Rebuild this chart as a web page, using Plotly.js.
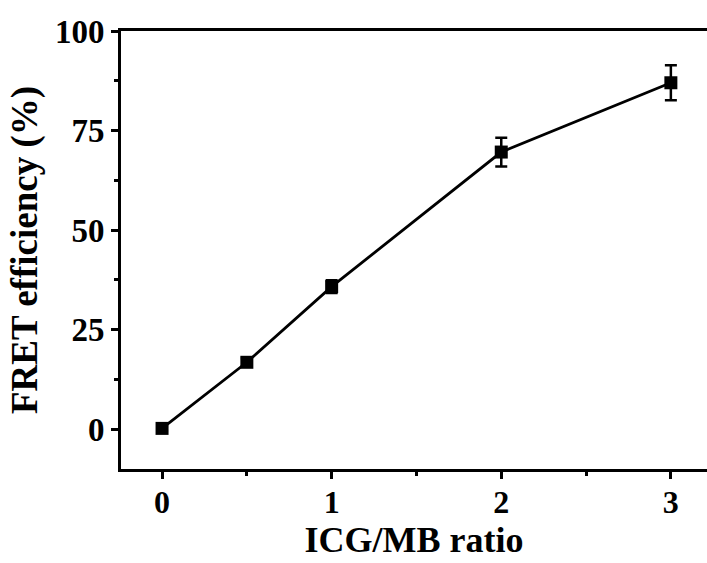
<!DOCTYPE html>
<html>
<head>
<meta charset="utf-8">
<script src="https://cdn.plot.ly/plotly-3.0.1.min.js"></script>
<style>html,body{margin:0;padding:0;background:#fff;}#chart{width:707px;height:563px;}</style>
</head>
<body>
<div id="chart"></div>
<script>
const ratio = [0, 0.5, 1, 2, 3];
const fretEfficiency = [0.2, 16.8, 35.8, 69.6, 87.0];
const errorValues = [0.5, 1.0, 1.6, 3.6, 4.4];
const xTickVals = [0, 1, 2, 3];
const xTickText = ['0', '1', '2', '3'];
const yTickVals = [0, 25, 50, 75, 100];
const yTickText = ['0', '25', '50', '75', '100'];

const font = 'Liberation Serif, Times New Roman, serif';

const trace = {
  x: ratio,
  y: fretEfficiency,
  type: 'scatter',
  mode: 'lines+markers',
  line: {color: '#000', width: 2.8},
  marker: {symbol: 'square', size: 13, color: '#000'},
  error_y: {type: 'data', array: errorValues, visible: true, color: '#000', thickness: 2.5, width: 6},
  showlegend: false,
  cliponaxis: false
};

const layout = {
  width: 707,
  height: 563,
  margin: {l: 121, r: 0, t: 31, b: 94, pad: 0},
  paper_bgcolor: '#fff',
  plot_bgcolor: '#fff',
  font: {family: font, color: '#000'},
  xaxis: {
    range: [-0.242, 3.213],
    tickvals: xTickVals,
    ticktext: xTickText,
    ticks: 'outside',
    ticklen: 7,
    tickwidth: 3,
    tickcolor: '#000',
    ticklabelstandoff: -4,
    minor: {dtick: 0.5, ticks: 'outside', ticklen: 4, tickwidth: 3, tickcolor: '#000', showgrid: false},
    showline: true,
    linewidth: 3,
    linecolor: '#000',
    mirror: true,
    showgrid: false,
    zeroline: false,
    tickfont: {family: font, size: 32, color: '#000', weight: 'bold'},
    title: {text: '<b>ICG/MB ratio</b>', font: {family: font, size: 36, color: '#000'}, standoff: 6}
  },
  yaxis: {
    range: [-10, 100],
    tickvals: yTickVals,
    ticktext: yTickText,
    ticks: 'outside',
    ticklen: 7,
    tickwidth: 3,
    tickcolor: '#000',
    minor: {dtick: 12.5, ticks: 'outside', ticklen: 4, tickwidth: 3, tickcolor: '#000', showgrid: false},
    showline: true,
    linewidth: 3,
    linecolor: '#000',
    mirror: false,
    showgrid: false,
    zeroline: false,
    tickfont: {family: font, size: 33, color: '#000', weight: 'bold'},
    title: {text: '<b>FRET efficiency (%)</b>', font: {family: font, size: 37, color: '#000'}, standoff: 6}
  }
};

Plotly.newPlot('chart', [trace], layout, {displayModeBar: false, staticPlot: true});
</script>
</body>
</html>
